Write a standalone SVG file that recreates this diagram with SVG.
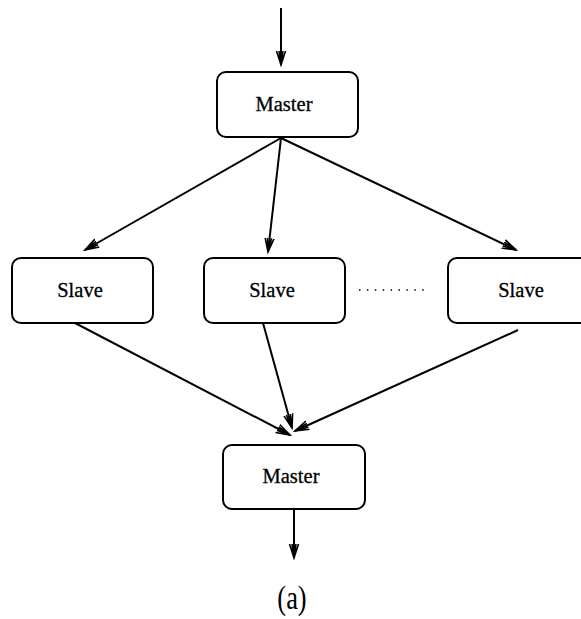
<svg xmlns="http://www.w3.org/2000/svg" width="581" height="619" viewBox="0 0 581 619">
<style>
.box{fill:#fff;stroke:#000;stroke-width:2}
.lbl{font-family:"Liberation Serif","DejaVu Serif","Times New Roman",serif;font-size:20.5px;fill:#000;stroke:#000;stroke-width:0.3;text-anchor:middle}
.edge{stroke:#000;stroke-width:2;fill:none;marker-end:url(#ah)}
</style>
<defs>
<marker id="ah" markerUnits="userSpaceOnUse" markerWidth="16" markerHeight="12" viewBox="-14 -6 16 12" refX="0" refY="0" orient="auto">
<path d="M-14,-4.5 L0,0 L-14,4.5 M-14,-2 L0,0 L-14,2" fill="none" stroke="#000" stroke-width="1.6"/>
</marker>
</defs>
<rect width="581" height="619" fill="#fff"/>
<g id="connectors">
<line class="edge" x1="281" y1="8" x2="281" y2="65"/>
<line class="edge" x1="281" y1="138" x2="85" y2="250"/>
<line class="edge" x1="281" y1="138" x2="268" y2="252"/>
<line class="edge" x1="281" y1="138" x2="516" y2="250"/>
<line class="edge" x1="75" y1="323" x2="290" y2="435"/>
<line class="edge" x1="263" y1="323" x2="292" y2="428"/>
<line class="edge" x1="518" y1="330" x2="295" y2="431"/>
<line class="edge" x1="294" y1="509" x2="294" y2="558"/>
<line x1="359" y1="290" x2="430" y2="290" stroke="#000" stroke-width="1.5" stroke-dasharray="1.5 6.4"/>
</g>
<g id="master-top">
<rect class="box" x="217" y="72" width="141" height="65" rx="9"/>
<text class="lbl" x="284" y="111">Master</text>
</g>
<g id="slave-1">
<rect class="box" x="12" y="258" width="141" height="65" rx="9"/>
<text class="lbl" x="80" y="297">Slave</text>
</g>
<g id="slave-2">
<rect class="box" x="204" y="258" width="141" height="65" rx="9"/>
<text class="lbl" x="272" y="297">Slave</text>
</g>
<g id="slave-n">
<rect class="box" x="448" y="258" width="141" height="65" rx="9"/>
<text class="lbl" x="521" y="297">Slave</text>
</g>
<g id="master-bottom">
<rect class="box" x="223" y="445" width="142" height="64" rx="9"/>
<text class="lbl" x="291" y="483">Master</text>
</g>
<text x="292" y="609" font-family="Liberation Serif, DejaVu Serif, serif" font-size="33" text-anchor="middle" transform="translate(292 0) scale(0.8 1) translate(-292 0)">(a)</text>
</svg>
